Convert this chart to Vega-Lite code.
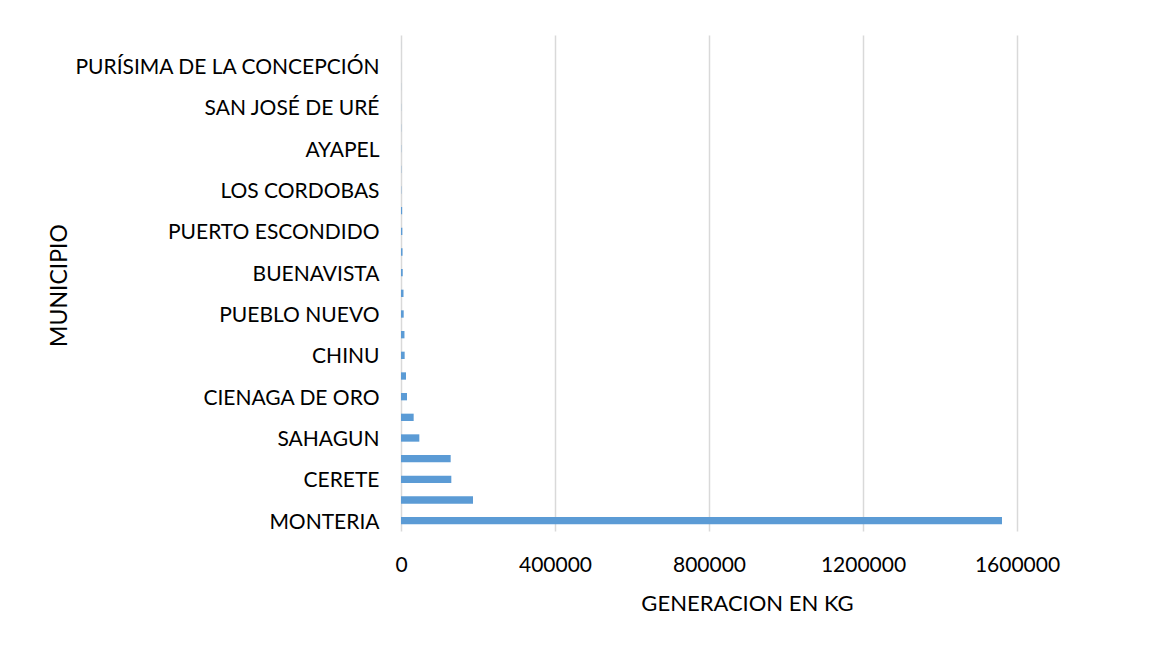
{
  "$schema": "https://vega.github.io/schema/vega-lite/v6.json",
  "width": 616,
  "height": 496,
  "autosize": "none",
  "padding": {"left": 401, "top": 35, "right": 141, "bottom": 117},
  "background": "white",
  "data": {
    "values": [
      {"municipio": "CHIMA", "kg": 80},
      {"municipio": "PURÍSIMA DE LA CONCEPCIÓN", "kg": 120},
      {"municipio": "SAN CARLOS", "kg": 200},
      {"municipio": "SAN JOSÉ DE URÉ", "kg": 300},
      {"municipio": "COTORRA", "kg": 400},
      {"municipio": "AYAPEL", "kg": 500},
      {"municipio": "CANALETE", "kg": 600},
      {"municipio": "LOS CORDOBAS", "kg": 700},
      {"municipio": "VALENCIA", "kg": 3000},
      {"municipio": "PUERTO ESCONDIDO", "kg": 3500},
      {"municipio": "MOMIL", "kg": 4000},
      {"municipio": "BUENAVISTA", "kg": 4500},
      {"municipio": "SAN ANTERO", "kg": 6500},
      {"municipio": "PUEBLO NUEVO", "kg": 7000},
      {"municipio": "SAN PELAYO", "kg": 9000},
      {"municipio": "CHINU", "kg": 9500},
      {"municipio": "TIERRALTA", "kg": 13000},
      {"municipio": "CIENAGA DE ORO", "kg": 15600},
      {"municipio": "PLANETA RICA", "kg": 32900},
      {"municipio": "SAHAGUN", "kg": 47600},
      {"municipio": "MONTELIBANO", "kg": 129000},
      {"municipio": "CERETE", "kg": 130700},
      {"municipio": "LORICA", "kg": 187000},
      {"municipio": "MONTERIA", "kg": 1561000}
    ]
  },
  "mark": {"type": "bar", "color": "#5B9BD5"},
  "encoding": {
    "y": {
      "field": "municipio",
      "type": "nominal",
      "sort": null,
      "scale": {"paddingInner": 0.645, "paddingOuter": 0.3225},
      "axis": {
        "title": "MUNICIPIO",
        "titleFont": "Lato",
        "titleFontSize": 23,
        "titleFontWeight": "normal",
        "titleColor": "#000000",
        "titleX": -330,
        "titleY": 250,
        "titleAngle": -90,
        "titleAlign": "center",
        "titleBaseline": "bottom",
        "labelFont": "Lato",
        "labelFontSize": 21,
        "labelColor": "#000000",
        "labelPadding": 22,
        "labelOffset": 2,
        "labelLimit": 0,
        "ticks": false,
        "domain": false,
        "labelExpr": "indexof(['MONTERIA','CERETE','SAHAGUN','CIENAGA DE ORO','CHINU','PUEBLO NUEVO','BUENAVISTA','PUERTO ESCONDIDO','LOS CORDOBAS','AYAPEL','SAN JOSÉ DE URÉ','PURÍSIMA DE LA CONCEPCIÓN'], datum.value) >= 0 ? datum.label : ''"
      }
    },
    "x": {
      "field": "kg",
      "type": "quantitative",
      "scale": {"domain": [0, 1600000], "nice": false},
      "axis": {
        "title": "GENERACION EN KG",
        "titleFont": "Lato",
        "titleFontSize": 22,
        "titleFontWeight": "normal",
        "titleColor": "#000000",
        "titlePadding": 18,
        "titleX": 346,
        "labelFont": "Lato",
        "labelFontSize": 21,
        "labelColor": "#000000",
        "labelPadding": 23,
        "labelFlush": false,
        "values": [0, 400000, 800000, 1200000, 1600000],
        "format": "d",
        "ticks": false,
        "domain": false,
        "grid": true,
        "gridColor": "#D9D9D9",
        "gridWidth": 1.5
      }
    }
  },
  "config": {"view": {"stroke": null}}
}
